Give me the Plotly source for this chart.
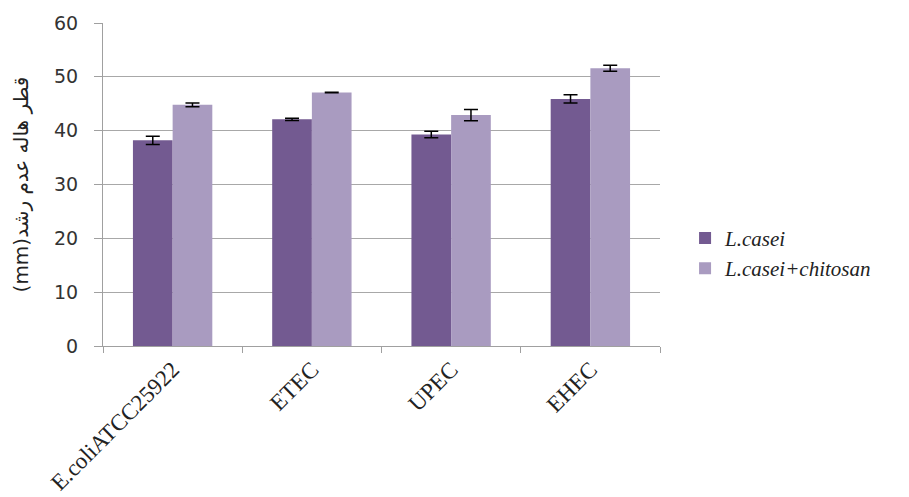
import plotly.graph_objects as go

categories = ["E.coliATCC25922", "ETEC", "UPEC", "EHEC"]
casei = [38.2, 42.1, 39.3, 45.9]
casei_err = [0.75, 0.2, 0.6, 0.75]
chitosan = [44.8, 47.1, 42.9, 51.6]
chitosan_err = [0.35, 0.05, 1.05, 0.55]

fig = go.Figure()
fig.add_trace(go.Bar(
    x=categories, y=casei, name="<i>L.casei</i>",
    marker=dict(color="#735a91", line=dict(width=0)),
    error_y=dict(type="data", array=casei_err, color="black", thickness=1.5, width=7),
))
fig.add_trace(go.Bar(
    x=categories, y=chitosan, name="<i>L.casei+chitosan</i>",
    marker=dict(color="#a99bc0", line=dict(width=0)),
    error_y=dict(type="data", array=chitosan_err, color="black", thickness=1.5, width=7),
))

fig.update_layout(
    width=909, height=497,
    margin=dict(l=103, r=249, t=23, b=151),
    paper_bgcolor="white", plot_bgcolor="white",
    barmode="group", bargap=0.43, bargroupgap=0,
    showlegend=True,
    legend=dict(x=1.045, xanchor="left", y=0.397, yanchor="top",
                font=dict(family="Liberation Serif", size=21, color="#222"),
                tracegroupgap=0, itemsizing="constant"),
    xaxis=dict(
        automargin=False,
        showline=True, linecolor="#a0a0a0", linewidth=1,
        ticks="outside", tickson="boundaries", ticklen=6, tickcolor="#a0a0a0",
        tickangle=-45, tickfont=dict(family="Liberation Serif", size=23, color="#222"),
        showgrid=False,
    ),
    yaxis=dict(
        automargin=False,
        range=[0, 60], dtick=10,
        showline=True, linecolor="#a0a0a0", linewidth=1,
        ticks="outside", ticklen=8, tickcolor="#a0a0a0",
        ticklabelstandoff=12,
        tickfont=dict(family="DejaVu Sans", size=19, color="#333"),
        showgrid=True, gridcolor="#a8a8a8", gridwidth=1,
        zeroline=False,
        title=dict(text="(mm)قطر هاله عدم رشد", font=dict(family="DejaVu Sans", size=20, color="#222"), standoff=20),
    ),
)

fig.write_html("out.html")
